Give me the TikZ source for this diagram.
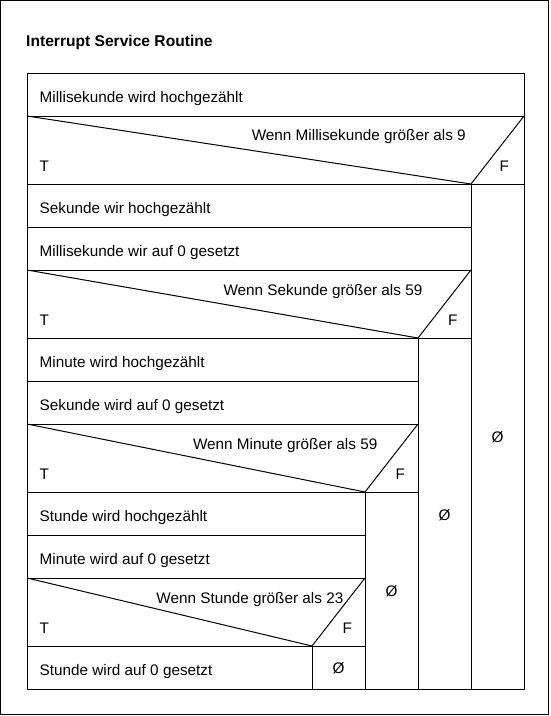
\documentclass[tikz,border=0pt]{standalone}
\usepackage{fontspec}
\setmainfont{Liberation Sans}
\begin{document}
\begin{tikzpicture}[x=1pt,y=-1pt,
  nsline/.style={line width=1pt,black},
  rowtext/.style={anchor=base west,inner sep=0pt,font=\fontsize{15.3}{18}\selectfont},
  condtext/.style={anchor=base east,inner sep=0pt,font=\fontsize{15.3}{18}\selectfont},
  emptytext/.style={anchor=center,inner sep=0pt,font=\fontsize{15.3}{18}\selectfont},
  titletext/.style={anchor=base west,inner sep=0pt,font=\fontsize{15.6}{18}\selectfont\bfseries}]
\useasboundingbox (0,0) rectangle (551,716);
\fill[white] (0,0) rectangle (551,716);
\draw[nsline] (0.5,0.5) rectangle (548.5,714.5);
\node[titletext] (title) at (26,46.5) {Interrupt Service Routine};
% outer box
\draw[nsline] (27,73) rectangle (524,689);
% row 1
\draw[nsline] (27,116) -- (524,116);
\node[rowtext] (r1) at (39.5,102.5) {Millisekunde wird hochgezählt};
% condition 1
\draw[nsline] (27,116) -- (471,184) -- (524,116);
\draw[nsline] (27,184) -- (524,184);
\draw[nsline] (471,184) -- (471,689);
\node[condtext] (c1) at (466,140.5) {Wenn Millisekunde größer als 9};
\node[rowtext] (t1) at (39.5,171) {T};
\node[rowtext] (f1) at (499.5,171) {F};
\node[emptytext] (e1) at (497.5,437) {Ø};
% rows
\node[rowtext] (r2) at (39.5,213.5) {Sekunde wir hochgezählt};
\draw[nsline] (27,227) -- (471,227);
\node[rowtext] (r3) at (39.5,256.5) {Millisekunde wir auf 0 gesetzt};
\draw[nsline] (27,270) -- (471,270);
% condition 2
\draw[nsline] (27,270) -- (418,338) -- (471,270);
\draw[nsline] (27,338) -- (471,338);
\draw[nsline] (418,338) -- (418,689);
\node[condtext] (c2) at (422.5,295) {Wenn Sekunde größer als 59};
\node[rowtext] (t2) at (39.5,325) {T};
\node[rowtext] (f2) at (448,325) {F};
\node[emptytext] (e2) at (444.5,515) {Ø};
% rows
\node[rowtext] (r4) at (39.5,367.5) {Minute wird hochgezählt};
\draw[nsline] (27,381) -- (418,381);
\node[rowtext] (r5) at (39.5,410.5) {Sekunde wird auf 0 gesetzt};
\draw[nsline] (27,424) -- (418,424);
% condition 3
\draw[nsline] (27,424) -- (365,492) -- (418,424);
\draw[nsline] (27,492) -- (418,492);
\draw[nsline] (365,492) -- (365,689);
\node[condtext] (c3) at (377.5,449) {Wenn Minute größer als 59};
\node[rowtext] (t3) at (39.5,479) {T};
\node[rowtext] (f3) at (395.5,479) {F};
\node[emptytext] (e3) at (391.5,591) {Ø};
% rows
\node[rowtext] (r6) at (39.5,521.5) {Stunde wird hochgezählt};
\draw[nsline] (27,535) -- (365,535);
\node[rowtext] (r7) at (39.5,564.5) {Minute wird auf 0 gesetzt};
\draw[nsline] (27,578) -- (365,578);
% condition 4
\draw[nsline] (27,578) -- (312,646) -- (365,578);
\draw[nsline] (27,646) -- (365,646);
\draw[nsline] (312,646) -- (312,689);
\node[condtext] (c4) at (343.5,603) {Wenn Stunde größer als 23};
\node[rowtext] (t4) at (39.5,633) {T};
\node[rowtext] (f4) at (342.5,633) {F};
\node[rowtext] (r8) at (39.5,675.5) {Stunde wird auf 0 gesetzt};
\node[emptytext] (e4) at (338.5,668) {Ø};
\end{tikzpicture}
\end{document}
